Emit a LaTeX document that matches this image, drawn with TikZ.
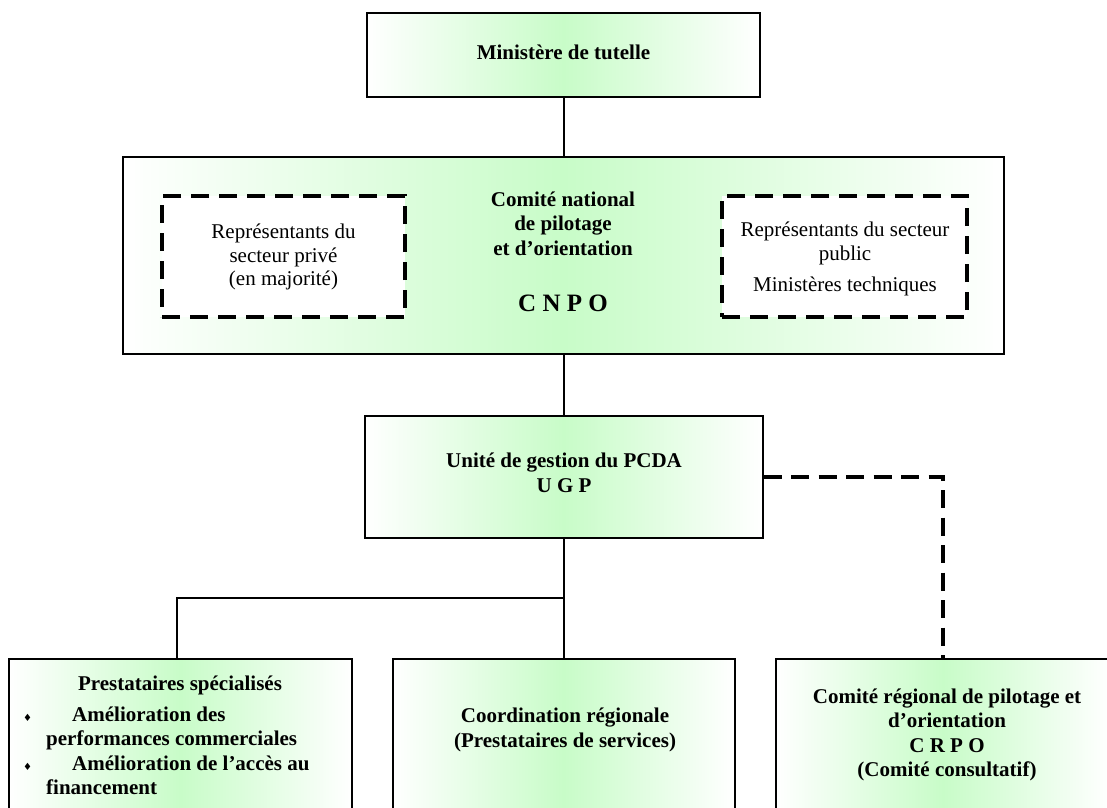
\documentclass[tikz,border=0pt]{standalone}
\usepackage{fontspec}
\setmainfont{Liberation Serif}
\newfontfamily\symfont{DejaVu Sans}
\definecolor{pale}{RGB}{200,252,200}
\tikzset{
  x=1pt, y=-1pt,
  box/.style={draw=black, line width=2pt, left color=white, right color=white, middle color=pale, inner sep=0pt},
  dbox/.style={draw=black, line width=4pt, dash pattern=on 18pt off 10pt, fill=white, inner sep=0pt},
  conn/.style={draw=black, line width=2pt},
  dconn/.style={draw=black, line width=4pt, dash pattern=on 18pt off 9.5pt},
  bt/.style={font=\fontsize{21}{24.5}\selectfont\bfseries, align=center, inner sep=0pt},
  rt/.style={font=\fontsize{21}{23.5}\selectfont, align=center, inner sep=0pt},
}
\begin{document}
\begin{tikzpicture}
\clip (0,0) rectangle (1107,807);
\fill[white] (0,0) rectangle (1107,807);
% boxes
\node[box, minimum width=393pt, minimum height=84pt] (min) at (563.5,55) {};
\node[box, minimum width=881pt, minimum height=197pt] (cnpo) at (563.5,255.5) {};
\node[dbox, minimum width=243pt, minimum height=121pt] (priv) at (283.5,256.5) {};
\node[dbox, minimum width=245pt, minimum height=121pt] (pub) at (844.5,256.5) {};
\node[box, minimum width=398pt, minimum height=122pt] (ugp) at (563.5,477) {};
\node[box, minimum width=343pt, minimum height=200pt] (presta) at (180.5,759) {};
\node[box, minimum width=342pt, minimum height=200pt] (coord) at (563.5,759) {};
\node[box, minimum width=334pt, minimum height=200pt] (crpo) at (943,759) {};
% texts
\node[bt] (tmin) at (563.5,52) {Ministère de tutelle};
\node[bt] (tcnpo) at (563,252) {Comité national\\de pilotage\\et d’orientation\\[32pt]{\fontsize{25}{28}\selectfont C N P O}};
\node[rt] (tpriv) at (283.5,257) {Représentants du\\secteur privé\\(en majorité)};
\node[rt] (tpub) at (845,259) {Représentants du secteur\\public\\[8pt]Ministères techniques};
\node[bt] (tugp) at (564,473) {Unité de gestion du PCDA\\U G P};
\node[bt] (tpresta) at (180,685) {Prestataires spécialisés};
\node[bt, align=left, anchor=west] (tlist) at (23,751) {\makebox[49pt][l]{\symfont\fontsize{10}{10}\selectfont ♦}Amélioration des\\\hspace*{23pt}performances commerciales\\\makebox[49pt][l]{\symfont\fontsize{10}{10}\selectfont ♦}Amélioration de l’accès au\\\hspace*{23pt}financement};
\node[bt] (tcoord) at (565,730) {Coordination régionale\\(Prestataires de services)};
\node[bt] (tcrpo) at (947,735) {Comité régional de pilotage et\\d’orientation\\C R P O\\(Comité consultatif)};
% connectors
\coordinate (j) at (563.5,598);
\coordinate (d) at (943,477);
\draw[conn] (min.south) -- (cnpo.north);
\draw[conn] (cnpo.south) -- (ugp.north);
\draw[conn] (ugp.south) -- (j);
\draw[conn] (j) -| ([xshift=-3.5pt]presta.north);
\draw[conn] (j) -- (coord.north);
\draw[dconn] (ugp.east) -- (d) -- (crpo.north);
\end{tikzpicture}
\end{document}
